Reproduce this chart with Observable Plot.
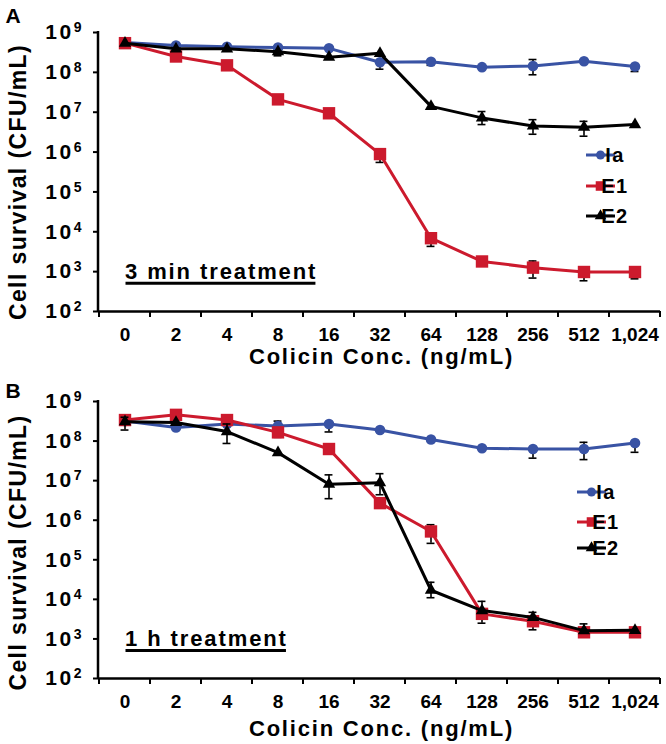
<!DOCTYPE html>
<html>
<head>
<meta charset="utf-8">
<script src="https://cdn.jsdelivr.net/npm/d3@7"></script>
<script src="https://cdn.jsdelivr.net/npm/@observablehq/plot@0.6"></script>
<style>
  html, body { margin: 0; padding: 0; background: #fff; }
  #chart { width: 666px; height: 744px; position: relative; overflow: hidden; }
  #chart > div { display: block; }
  svg { display: block; }
</style>
</head>
<body>
<div id="chart"><div id="pa"></div><div id="pb"></div></div>
<script>
// ---------- data ----------
const concLabels = ["0", "2", "4", "8", "16", "32", "64", "128", "256", "512", "1,024"];
const yTickValues = [1e2, 1e3, 1e4, 1e5, 1e6, 1e7, 1e8, 1e9];
const seriesNames = ["Ia", "E1", "E2"];
const seriesColors = ["#3953a4", "#cc1a2d", "#000000"];
const seriesSymbols = ["circle", "square", "triangle"];
const xTitle = "Colicin Conc. (ng/mL)";
const yTitle = "Cell survival (CFU/mL)";
const panelLetters = ["A", "B"];
const panelNotes = ["3 min treatment", "1 h treatment"];

// Panel A (3 min treatment)
const aIa    = [5.6e8, 4.7e8, 4.4e8, 4.2e8, 4.0e8, 1.8e8, 1.85e8, 1.35e8, 1.45e8, 1.9e8, 1.4e8];
const aIaLo  = [null, null, null, null, null, 1.2e8, 1.5e8, null, 8.7e7, null, 1.05e8];
const aIaHi  = [null, null, null, null, null, null, null, null, 2.1e8, null, null];
const aE1    = [5.4e8, 2.5e8, 1.5e8, 2.1e7, 9.4e6, 8.9e5, 6.9e3, 1.8e3, 1.26e3, 9.8e2, 9.8e2];
const aE1Lo  = [null, null, null, null, null, 5.5e5, 4.3e3, null, 6.9e2, 5.9e2, 6.6e2];
const aE1Hi  = [null, null, null, null, null, null, null, null, 1.85e3, null, null];
const aE2    = [5.4e8, 3.9e8, 3.9e8, 3.3e8, 2.4e8, 3.0e8, 1.4e7, 7.2e6, 4.5e6, 4.2e6, 4.9e6];
const aE2Lo  = [null, null, null, 2.6e8, null, null, null, 4.9e6, 2.8e6, 2.5e6, null];
const aE2Hi  = [null, null, null, null, null, null, null, 1.04e7, 6.5e6, 5.9e6, null];

// Panel B (1 h treatment)
const bIa    = [3.2e8, 2.2e8, 2.7e8, 2.4e8, 2.7e8, 1.9e8, 1.1e8, 6.6e7, 6.3e7, 6.3e7, 8.9e7];
const bIaLo  = [null, null, null, null, 1.7e8, null, null, null, 3.7e7, 3.4e7, 5.2e7];
const bIaHi  = [null, null, null, 3.2e8, null, null, null, null, null, 9.3e7, null];
const bE1    = [3.4e8, 4.6e8, 3.4e8, 1.66e8, 6.3e7, 2.7e6, 5.2e5, 4.3e3, 2.8e3, 1.47e3, 1.47e3];
const bE1Lo  = [null, null, null, 1.24e8, null, null, 2.6e5, 2.5e3, 1.7e3, null, null];
const bE1Hi  = [null, null, null, null, null, null, 7.7e5, null, null, null, null];
const bE2    = [3.1e8, 2.95e8, 1.74e8, 5.1e7, 8.1e6, 8.9e6, 1.7e4, 5.2e3, 3.5e3, 1.62e3, 1.65e3];
const bE2Lo  = [1.9e8, null, 8.7e7, null, 3.5e6, 4.4e6, 1.1e4, null, null, null, null];
const bE2Hi  = [4.0e8, null, 2.7e8, null, 1.4e7, 1.5e7, 2.7e4, 8.9e3, 4.7e3, 2.4e3, null];

// ---------- drawing ----------
const FONT = '"Liberation Sans", Arial, Helvetica, sans-serif';
const W = 666, ML = 98, MR = 6;
const seriesR = [5.3, 7, 4.6];

function rowsOf(values, lo, hi) {
  return concLabels.map((c, i) => ({c, v: values[i], lo: lo[i], hi: hi[i]}));
}

function panel(cfg) {
  const bw = (W - ML - MR) / concLabels.length;
  const capInset = (bw - 8) / 2;
  const marks = [];
  marks.push(Plot.ruleY([yTickValues[0]], {stroke: "#000", strokeWidth: 2.5}));
  marks.push(Plot.axisY({
    ticks: yTickValues, tickSize: 5, tickPadding: 12, label: null,
    tickFormat: d => "10^" + Math.round(Math.log10(d)), fontSize: 21
  }));
  marks.push(Plot.axisX({tickSize: 0, tickPadding: 16, label: null, fontSize: 19}));
  cfg.series.forEach((s, k) => {
    const rows = rowsOf(s.values, s.lo, s.hi);
    const withLo = rows.filter(d => d.lo != null);
    const withHi = rows.filter(d => d.hi != null);
    marks.push(Plot.ruleX(withLo, {x: "c", y1: "v", y2: "lo", stroke: "#000", strokeWidth: 1.6}));
    marks.push(Plot.ruleX(withHi, {x: "c", y1: "v", y2: "hi", stroke: "#000", strokeWidth: 1.6}));
    marks.push(Plot.tickY(withLo, {x: "c", y: "lo", insetLeft: capInset, insetRight: capInset, stroke: "#000", strokeWidth: 1.6}));
    marks.push(Plot.tickY(withHi, {x: "c", y: "hi", insetLeft: capInset, insetRight: capInset, stroke: "#000", strokeWidth: 1.6}));
    marks.push(Plot.line(rows, {x: "c", y: "v", stroke: seriesColors[k], strokeWidth: 3}));
    marks.push(Plot.dot(rows, {x: "c", y: "v", symbol: seriesSymbols[k], r: seriesR[k], fill: seriesColors[k], stroke: "none"}));
  });
  marks.push(Plot.text([yTitle], {frameAnchor: "left", rotate: -90, textAnchor: "middle", lineAnchor: "middle", dx: -80, dy: cfg.yTitleDy, fontSize: 23, fontWeight: "bold"}));
  marks.push(Plot.text([xTitle], {frameAnchor: "bottom", textAnchor: "middle", dx: 2, dy: cfg.xTitleDy, lineAnchor: "middle", fontSize: 22, fontWeight: "bold"}));
  marks.push(Plot.text([cfg.letter], {frameAnchor: "top-left", textAnchor: "start", lineAnchor: "middle", dx: -93, dy: cfg.letterDy, fontSize: 21, fontWeight: "bold"}));
  marks.push(Plot.text([cfg.note], {x: () => concLabels[0], y: () => yTickValues[1], textAnchor: "start", lineAnchor: "middle", fontSize: 22, fontWeight: "bold"}));

  const plot = Plot.plot({
    width: W, height: cfg.height,
    marginLeft: ML, marginRight: MR, marginTop: cfg.mt, marginBottom: cfg.mb,
    x: {type: "band", domain: concLabels, padding: 0},
    y: {type: "log", domain: [yTickValues[0], yTickValues[yTickValues.length - 1]]},
    style: {fontFamily: FONT, fontWeight: "bold", color: "#000", background: "#fff", overflow: "visible"},
    marks
  });
  document.getElementById(cfg.mount).appendChild(plot);
  post(plot, cfg);
  return plot;
}

function findText(svgNode, content) {
  return Array.from(svgNode.querySelectorAll("text")).find(t => t.textContent === content);
}

function post(plot, cfg) {
  const svgNode = plot.tagName.toLowerCase() === "svg" ? plot : plot.querySelector("svg");
  const svg = d3.select(svgNode);
  const H = cfg.height;
  const top = cfg.mt, bottom = H - cfg.mb;
  // letter spacing on wide titles (the reference font is horizontally stretched)
  const yt = findText(svgNode, yTitle); if (yt) yt.style.letterSpacing = "1.4px";
  const xt = findText(svgNode, xTitle); if (xt) xt.style.letterSpacing = "1.8px";
  const nt = findText(svgNode, cfg.note); if (nt) nt.style.letterSpacing = "1.9px";
  // superscripts on y tick labels
  svg.selectAll("text").each(function () {
    const t = this.textContent;
    const m = /^10\^(\d+)$/.exec(t);
    if (m && this.children.length === 0) {
      this.textContent = "10";
      const ts = document.createElementNS("http://www.w3.org/2000/svg", "tspan");
      ts.setAttribute("dy", "-7");
      ts.setAttribute("font-size", "14");
      ts.setAttribute("letter-spacing", "0");
      ts.textContent = m[1];
      this.appendChild(ts);
      this.style.letterSpacing = "2.5px";
    }
  });
  svg.selectAll('g[aria-label="y-axis tick"]').attr("stroke-width", 2);
  // y-axis line
  svg.append("line").attr("x1", ML).attr("x2", ML).attr("y1", top - 1).attr("y2", bottom + 1)
    .attr("stroke", "#000").attr("stroke-width", 2.5);
  // category boundary ticks on x axis (Excel style)
  const xs = plot.scale("x");
  const bounds = concLabels.map(c => xs.apply(c));
  bounds.push(xs.apply(concLabels[concLabels.length - 1]) + xs.bandwidth);
  svg.append("g").selectAll("line").data(bounds).join("line")
    .attr("x1", d => d).attr("x2", d => d).attr("y1", bottom).attr("y2", bottom + 6)
    .attr("stroke", "#000").attr("stroke-width", 2);
  // underline for note
  if (nt) {
    const sr = svgNode.getBoundingClientRect();
    const r = nt.getBoundingClientRect();
    const x0 = r.left - sr.left + 0.5, x1 = r.right - sr.left - 1.9;
    const yl = r.bottom - sr.top - 0.5;
    svg.append("line").attr("x1", x0).attr("x2", x1).attr("y1", yl).attr("y2", yl)
      .attr("stroke", "#000").attr("stroke-width", 3);
  }
  // legend
  const lg = svg.append("g").attr("font-family", FONT).attr("font-weight", "bold");
  seriesNames.forEach((name, k) => {
    const y = cfg.legendY[k];
    lg.append("line").attr("x1", cfg.legendX[0]).attr("x2", cfg.legendX[1]).attr("y1", y).attr("y2", y)
      .attr("stroke", seriesColors[k]).attr("stroke-width", 3);
    const sym = {circle: d3.symbolCircle, square: d3.symbolSquare, triangle: d3.symbolTriangle}[seriesSymbols[k]];
    const r = [4.5, 5.4, 4.3][k];
    lg.append("path").attr("d", d3.symbol(sym, Math.PI * r * r)())
      .attr("transform", `translate(${(cfg.legendX[0] + cfg.legendX[1]) / 2},${y})`)
      .attr("fill", seriesColors[k]);
    lg.append("text").attr("x", cfg.legendX[1]).attr("y", y).attr("dy", "0.36em")
      .attr("font-size", 20).style("letter-spacing", "1.5px").attr("fill", "#000").text(name);
  });
}

panel({
  mount: "pa", height: 370, mt: 32, mb: 59,
  letter: panelLetters[0], note: panelNotes[0],
  yTitleDy: 10, xTitleDy: 45, letterDy: -16.5,
  legendX: [586, 615], legendY: [155, 186, 216],
  series: [
    {values: aIa, lo: aIaLo, hi: aIaHi},
    {values: aE1, lo: aE1Lo, hi: aE1Hi},
    {values: aE2, lo: aE2Lo, hi: aE2Hi}
  ]
});
panel({
  mount: "pb", height: 374, mt: 31, mb: 66,
  letter: panelLetters[1], note: panelNotes[1],
  yTitleDy: 12.5, xTitleDy: 50, letterDy: -10.5,
  legendX: [577, 606], legendY: [122, 152, 178],
  series: [
    {values: bIa, lo: bIaLo, hi: bIaHi},
    {values: bE1, lo: bE1Lo, hi: bE1Hi},
    {values: bE2, lo: bE2Lo, hi: bE2Hi}
  ]
});
</script>
</body>
</html>
